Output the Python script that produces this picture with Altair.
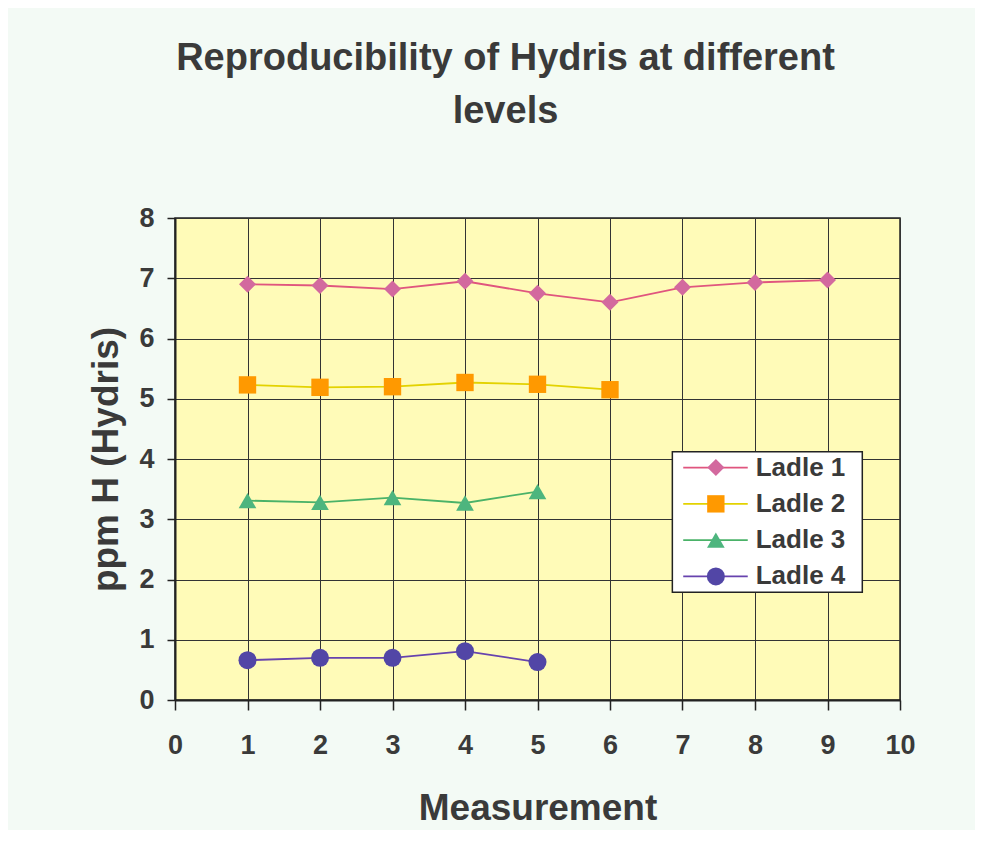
import altair as alt
import pandas as pd

# ---- data ----
series = ["Ladle 1", "Ladle 2", "Ladle 3", "Ladle 4"]
ladle1 = [6.90, 6.88, 6.82, 6.95, 6.75, 6.60, 6.85, 6.93, 6.97]
ladle2 = [5.23, 5.19, 5.20, 5.27, 5.24, 5.15]
ladle3 = [3.31, 3.28, 3.36, 3.27, 3.46]
ladle4 = [0.66, 0.70, 0.70, 0.81, 0.63]
x_ticks = list(range(0, 11))
y_ticks = list(range(0, 9))

title_lines = ["Reproducibility of Hydris at different", "levels"]
x_title = "Measurement"
y_title = "ppm H (Hydris)"

# ---- styles ----
marker_colors = ["#D3699E", "#FF9900", "#4DB57E", "#5246A6"]
line_colors = ["#E0557E", "#E3D200", "#4AB268", "#6743AE"]
shapes = ["diamond", "square", "triangle-up", "circle"]
sizes = [290, 324, 360, 225]
FONT = "Liberation Sans"
TXT = "#3a3a3a"
DARK = "#222222"

rows = []
for name, vals in zip(series, [ladle1, ladle2, ladle3, ladle4]):
    for i, v in enumerate(vals):
        rows.append({"Ladle": name, "Measurement": i + 1, "ppm": v})
df = pd.DataFrame(rows)

xs = alt.Scale(domain=[0, 10], nice=False, zero=False)
ys = alt.Scale(domain=[0, 8], nice=False, zero=False)
stroke_s = alt.Scale(domain=series, range=line_colors)
fill_s = alt.Scale(domain=series, range=marker_colors)
shape_s = alt.Scale(domain=series, range=shapes)
size_s = alt.Scale(domain=series, range=sizes)

x_axis = alt.Axis(values=x_ticks, format="d", title=x_title, labelFlush=False, labelOverlap=False,
                  labelFontSize=27, labelFont=FONT, labelFontWeight="bold", labelColor=TXT,
                  labelPadding=22, tickSize=10, tickColor=DARK, tickWidth=1.5,
                  domainColor=DARK, domainWidth=2, grid=True, gridColor="#333333", gridWidth=1,
                  titleFontSize=37, titleFont=FONT, titleFontWeight="bold", titleColor=TXT,
                  titlePadding=32)
y_axis = alt.Axis(values=y_ticks, format="d", title=y_title, labelFlush=False, labelOverlap=False,
                  labelFontSize=27, labelFont=FONT, labelFontWeight="bold", labelColor=TXT,
                  labelPadding=13, tickSize=8, tickColor=DARK, tickWidth=1.5,
                  domainColor=DARK, domainWidth=2, grid=True, gridColor="#333333", gridWidth=1,
                  titleFontSize=37, titleFont=FONT, titleFontWeight="bold", titleColor=TXT,
                  titlePadding=13)

base = alt.Chart(df)
lines = base.mark_line(strokeWidth=1.8).encode(
    x=alt.X("Measurement:Q", scale=xs, axis=x_axis),
    y=alt.Y("ppm:Q", scale=ys, axis=y_axis),
    stroke=alt.Stroke("Ladle:N", scale=stroke_s, legend=None),
    detail="Ladle:N",
)
points = base.mark_point(filled=True, opacity=1, strokeWidth=0).encode(
    x=alt.X("Measurement:Q", scale=xs),
    y=alt.Y("ppm:Q", scale=ys),
    fill=alt.Fill("Ladle:N", scale=fill_s, legend=None),
    shape=alt.Shape("Ladle:N", scale=shape_s, legend=None),
    size=alt.Size("Ladle:N", scale=size_s, legend=None),
)

# ---- legend drawn inside the plot (layout, in axis units) ----
leg_left, leg_right, leg_top, leg_bottom = 6.86, 9.48, 4.12, 1.79
step = (leg_top - leg_bottom) / len(series)
leg = pd.DataFrame({
    "Ladle": series,
    "ly": [leg_top - (i + 0.45) * step - 0.02 * i for i in range(len(series))],
})
box = alt.Chart(pd.DataFrame({"a": [0]})).mark_rect(fill="white", stroke=DARK, strokeWidth=1.5).encode(
    x=alt.X(datum=leg_left, scale=xs), x2=alt.X2(datum=leg_right),
    y=alt.Y(datum=leg_top, scale=ys), y2=alt.Y2(datum=leg_bottom),
)
lbase = alt.Chart(leg)
leg_lines = lbase.mark_rule(strokeWidth=1.8).encode(
    x=alt.X(datum=7.01, scale=xs), x2=alt.X2(datum=7.90),
    y=alt.Y("ly:Q", scale=ys),
    stroke=alt.Stroke("Ladle:N", scale=stroke_s, legend=None),
)
leg_pts = lbase.mark_point(filled=True, opacity=1, strokeWidth=0).encode(
    x=alt.X(datum=7.46, scale=xs),
    y=alt.Y("ly:Q", scale=ys),
    fill=alt.Fill("Ladle:N", scale=fill_s, legend=None),
    shape=alt.Shape("Ladle:N", scale=shape_s, legend=None),
    size=alt.Size("Ladle:N", scale=size_s, legend=None),
)
leg_txt = lbase.mark_text(align="left", baseline="middle", fontSize=26, font=FONT,
                          fontWeight="bold", color=TXT).encode(
    x=alt.X(datum=8.01, scale=xs),
    y=alt.Y("ly:Q", scale=ys),
    text="Ladle:N",
)

chart = alt.layer(lines, points, box, leg_lines, leg_pts, leg_txt).properties(
    width=725,
    height=482,
    title=alt.TitleParams(text=title_lines, fontSize=38, font=FONT, fontWeight="bold", color=TXT,
                          anchor="middle", dx=-32, offset=73, lineHeight=53),
    padding={"left": 167, "top": 210, "right": 75, "bottom": 130},
    autosize=alt.AutoSizeParams(type="none"),
    background="#F3FAF5",
).configure_view(fill="#FFFBB8", stroke=DARK, strokeWidth=1.5)

chart.save("out.html", embed_options={"renderer": "svg", "actions": False})
